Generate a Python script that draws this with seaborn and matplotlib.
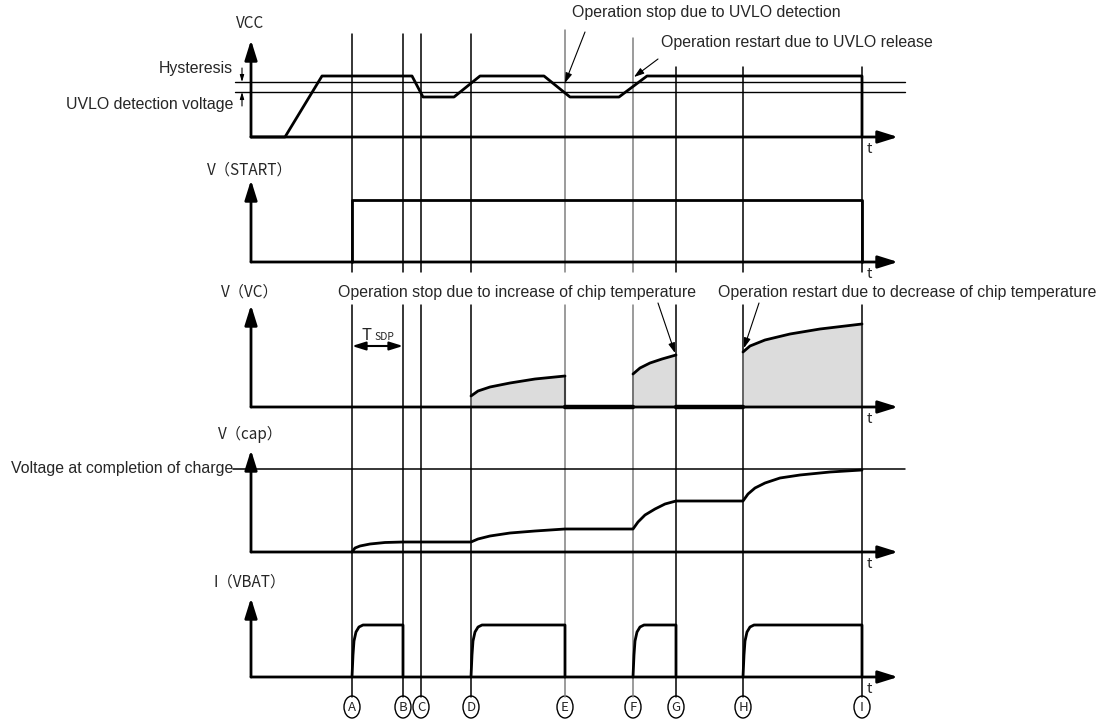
import matplotlib
matplotlib.use("Agg")
import matplotlib.pyplot as plt
from matplotlib.patches import Ellipse
import seaborn as sns

# --- event markers (time positions of A..I) ---
event_names = ["A", "B", "C", "D", "E", "F", "G", "H", "I"]
event_t = [352, 403, 421, 471, 565, 633, 676, 743, 862]
event_top = [34, 34, 34, 34, 30, 38, 67, 67, 67]
event_color = ["black", "black", "black", "black", "#808080", "#808080", "black", "black", "black"]

# --- panels ---
panel_labels = ["VCC", "V（START）", "V（VC）", "V（cap）", "I（VBAT）"]
panel_base = [137, 262, 407, 552, 677]
panel_tip = [40, 180, 305, 450, 598]
panel_label_y = [23, 170, 292, 434, 582]

# --- VCC trace and UVLO thresholds ---
vcc_t = [251, 285, 322, 412, 423, 454, 480, 544, 570, 619, 647, 862, 862]
vcc_v = [137, 137, 76, 76, 97, 97, 76, 76, 97, 97, 76, 76, 137]
uvlo_release = 82
uvlo_detect = 92

# --- V(START) ---
start_t = [352, 352, 862, 862]
start_v = [262, 200, 200, 262]

# --- V(VC) segments (charging curves) ---
vc_seg_t = [
    [471, 478, 490, 510, 535, 565],
    [633, 640, 650, 662, 676],
    [743, 750, 765, 790, 820, 862],
]
vc_seg_v = [
    [396, 391, 387, 383, 379, 376],
    [374, 368, 363, 359, 355],
    [352, 346, 340, 334, 329, 324],
]
vc_idle = [(565, 633), (676, 743)]

# --- V(cap) ---
cap_t = [352, 355, 360, 370, 385, 403, 471, 478, 490, 510, 535, 565, 633, 638, 645, 655, 665, 676,
         743, 748, 755, 765, 780, 800, 830, 862]
cap_v = [552, 548, 546, 544, 542.5, 542, 542, 539, 536, 533, 531, 529, 529, 522, 515, 509, 504, 501,
         501, 494, 488, 483, 478, 475, 472, 470]
cap_full = 469

# --- I(VBAT) pulses ---
pulse_on = [352, 471, 633, 743]
pulse_off = [403, 565, 676, 862]
pulse_rise_dt = [0, 1, 2, 4, 7, 11]
pulse_rise_v = [677, 655, 641, 632, 627, 625]

sns.set_theme(style="white")
plt.rcParams["font.family"] = ["Liberation Sans", "DejaVu Sans"]
CJK = ["Noto Sans CJK JP", "DejaVu Sans"]
FS = 11.4

fig = plt.figure(figsize=(11.04, 7.2), dpi=100)
ax = fig.add_axes([0, 0, 1, 1])
ax.set_xlim(0, 1104)
ax.set_ylim(720, 0)
ax.axis("off")


def trace(xs, ys, lw=2.0, color="black"):
    sns.lineplot(x=xs, y=ys, sort=False, estimator=None, ax=ax, color=color,
                 linewidth=lw, legend=False)


def arrow(x0, y0, x1, y1, style="-|>,head_length=0.8,head_width=0.25", ms=15, lw=2.0):
    ax.annotate("", xy=(x1, y1), xytext=(x0, y0),
                arrowprops=dict(arrowstyle=style, mutation_scale=ms, lw=lw,
                                color="black", shrinkA=0, shrinkB=0))


# event lines (broken around the V(VC) label row)
for t, top, c in zip(event_t, event_top, event_color):
    ax.plot([t, t], [top, 272], color=c, lw=1.1)
    ax.plot([t, t], [305, 697], color=c, lw=1.1)

# axes of each panel
for lab, base, tip, ly in zip(panel_labels, panel_base, panel_tip, panel_label_y):
    arrow(251, base, 251, tip)
    arrow(251, base, 898, base)
    ax.text(250, ly, lab, family=CJK, fontsize=11, ha="center", va="center")
    ax.text(867, base + 12, "t", family=CJK, fontsize=10.5, ha="left", va="center")

# VCC panel
for lvl in [uvlo_release, uvlo_detect]:
    ax.plot([235, 905], [lvl, lvl], color="black", lw=1.0)
trace(vcc_t, vcc_v)
arrow(242, 68, 242, uvlo_release, style="-|>,head_length=0.5,head_width=0.15", ms=8, lw=0.8)
arrow(242, 106, 242, uvlo_detect, style="-|>,head_length=0.5,head_width=0.15", ms=8, lw=0.8)
ax.text(233, 69, "Hysteresis", fontsize=FS, ha="right", va="center")
ax.text(233, 104, "UVLO detection voltage", fontsize=FS, ha="right", va="center")
ax.text(572, 13, "Operation stop due to UVLO detection", fontsize=FS, ha="left", va="center")
ax.text(661, 43, "Operation restart due to UVLO release", fontsize=FS, ha="left", va="center")
arrow(585, 32, 565, 83, style="-|>,head_length=0.6,head_width=0.2", ms=10, lw=0.8)
arrow(658, 59, 634, 77, style="-|>,head_length=0.6,head_width=0.2", ms=10, lw=0.8)

# V(START)
trace(start_t, start_v)

# V(VC)
base_vc = panel_base[2]
for ts, vs in zip(vc_seg_t, vc_seg_v):
    ax.fill_between(ts, vs, base_vc, color="#dcdcdc", lw=0, zorder=1)
    ax.plot([ts[0], ts[0]], [base_vc, vs[0]], color="#707070", lw=1.2)
    ax.plot([ts[-1], ts[-1]], [base_vc, vs[-1]], color="#404040", lw=1.5)
    trace(ts, vs)
for t0, t1 in vc_idle:
    ax.plot([t0, t1], [base_vc, base_vc], color="black", lw=3.2)
ax.text(338, 292, "Operation stop due to increase of chip temperature", fontsize=FS,
        ha="left", va="center")
ax.text(718, 292, "Operation restart due to decrease of chip temperature", fontsize=FS,
        ha="left", va="center")
arrow(658, 303, 675, 353, style="-|>,head_length=0.6,head_width=0.2", ms=10, lw=0.8)
arrow(759, 303, 744, 348, style="-|>,head_length=0.6,head_width=0.2", ms=10, lw=0.8)
arrow(378, 346, event_t[0], 346, style="-|>,head_length=0.8,head_width=0.25", ms=10, lw=1.5)
arrow(378, 346, event_t[1], 346, style="-|>,head_length=0.8,head_width=0.25", ms=10, lw=1.5)
ax.text(367, 335, "T", family=CJK, fontsize=12, ha="center", va="center")
ax.text(384, 337, "SDP", family=CJK, fontsize=7.5, ha="center", va="center")

# V(cap)
ax.plot([233, 905], [cap_full, cap_full], color="black", lw=1.1)
ax.text(233, cap_full, "Voltage at completion of charge", fontsize=FS, ha="right", va="center")
trace(cap_t, cap_v)

# I(VBAT)
for t_on, t_off in zip(pulse_on, pulse_off):
    xs = [t_on + d for d in pulse_rise_dt] + [t_off, t_off]
    ys = pulse_rise_v + [pulse_rise_v[-1], panel_base[4]]
    trace(xs, ys)

# circled event names
for name, t in zip(event_names, event_t):
    ax.add_patch(Ellipse((t, 707), 16, 22, fill=False, lw=1.0, color="black"))
    ax.text(t, 707.5, name, family=CJK, fontsize=9.5, ha="center", va="center")

fig.savefig("out.png", dpi=100)
